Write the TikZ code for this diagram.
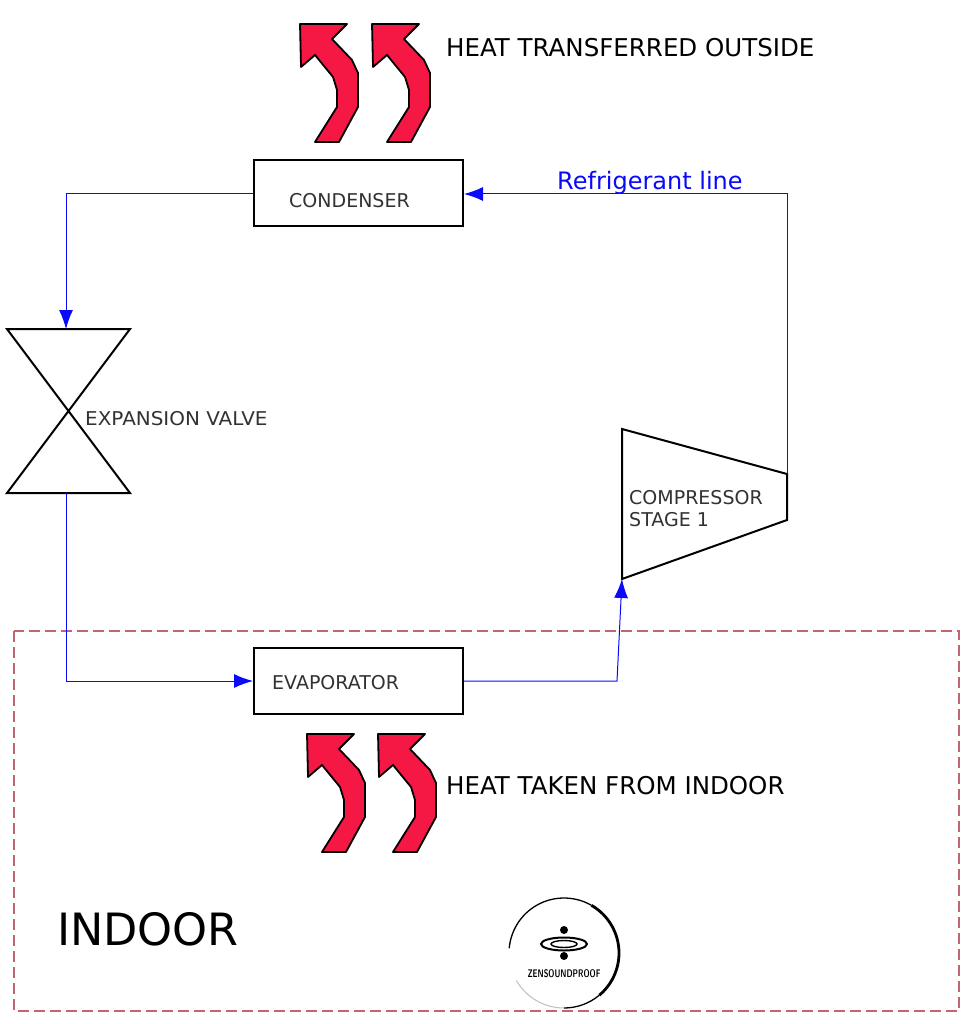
\documentclass[tikz,border=0pt]{standalone}
\usepackage{fontspec}
\setmainfont{DejaVu Sans}
\usetikzlibrary{arrows.meta}
\definecolor{heatred}{RGB}{245,24,68}
\definecolor{lineblue}{RGB}{10,10,250}
\definecolor{indoorred}{RGB}{195,100,115}
\definecolor{labelgray}{RGB}{50,50,50}
\tikzset{
  unitbox/.style={draw, line width=2pt, minimum width=209pt, minimum height=66pt, inner sep=0pt},
  unitlabel/.style={font=\fontsize{19}{22.5}\selectfont, text=labelgray, inner sep=0pt, align=left},
  biglabel/.style={font=\fontsize{24.5}{28}\selectfont, inner sep=0pt},
  refline/.style={lineblue, line width=1pt},
  refarrow/.style={refline, -{Latex[length=19pt,width=14pt]}},
  heatarrow/.pic={
    \filldraw[fill=heatred, line width=1.8pt, line join=round] (0,0) -- (47,0) -- (32,15) -- (52,36) -- (58,49) -- (58,83)
      -- (39,118) -- (15,118) -- (37,83) -- (37,66) -- (33,53) -- (15,31) -- (1,43) -- cycle;
  }
}
\begin{document}
\begin{tikzpicture}[x=1pt, y=-1pt]
    \useasboundingbox[fill=white] (0,0) rectangle (966,1024);
    % indoor zone
    \draw[indoorred, line width=1.1pt, dash pattern=on 11pt off 5pt] (14,631) rectangle (959,1011);
    \node[anchor=west, font=\fontsize{44.5}{50}\selectfont, inner sep=0pt] (indoor) at (57,929) {INDOOR};
    % heat arrows
    \pic at (300,24) {heatarrow};
    \pic at (372,24) {heatarrow};
    \pic at (307,734) {heatarrow};
    \pic at (378,734) {heatarrow};
    \node[biglabel, anchor=west] (heatout) at (446,48) {HEAT TRANSFERRED OUTSIDE};
    \node[biglabel, anchor=west] (heatin) at (446,786) {HEAT TAKEN FROM INDOOR};
    % units
    \node[unitbox] (condenser) at (358.5,193) {};
    \node[unitbox] (evaporator) at (358.5,681) {};
    \node[unitlabel, anchor=west] (condensertext) at (289,201) {CONDENSER};
    \node[unitlabel, anchor=west] (evaporatortext) at (272,683) {EVAPORATOR};
    \coordinate (condin) at ([yshift=-1pt]condenser.east);
    \coordinate (condout) at ([yshift=-1pt]condenser.west);
    % valve
    \coordinate (valvetop) at (66,329);
    \coordinate (valvebottom) at (66,493);
    \draw[line width=2pt] (7,329) -- (130,329) -- (7,493) -- (130,493) -- cycle;
    \node[unitlabel, anchor=west, xscale=1.05] (valvetext) at (85,419) {EXPANSION VALVE};
    % compressor
    \coordinate (compin) at (622,579);
    \coordinate (compout) at (787,474);
    \draw[line width=2pt] (622,429) -- (787,474) -- (787,520) -- (622,579) -- cycle;
    \node[unitlabel, anchor=north west] (compressortext) at (629,490) {COMPRESSOR\\STAGE 1};
    % refrigerant lines
    \draw[refarrow] (condout) -- (valvetop |- condout) -- (valvetop);
    \draw[refarrow] (valvebottom) -- (valvebottom |- evaporator.west) -- (evaporator.west);
    \draw[refarrow] (evaporator.east) -- (617,681) -- (compin);
    \draw[refarrow] (compout) -- (compout |- condin) -- (condin);
    \node[anchor=west, text=lineblue, font=\fontsize{24}{28}\selectfont, inner sep=0pt] (linetext) at (557,183) {Refrigerant line};
    % logo
    \begin{scope}[shift={(564,953)}, y=1pt]
      \draw[line width=1.3pt] (175:55) arc (175:60:55);
      \draw[line width=2.8pt] (60:55) arc (60:-50:55);
      \draw[line width=1.3pt] (-50:55) arc (-50:-90:55);
      \draw[black!25, line width=1pt] (-90:55) arc (-90:-150:55);
      \fill (0,23) circle (4pt);
      \fill (0,-3) circle (4pt);
      \draw[line width=2pt] (0,9) ellipse (23pt and 6.5pt);
      \draw[line width=1.4pt] (0,9) ellipse (13pt and 3.5pt);
    \end{scope}
    \node[font=\sffamily\bfseries\fontsize{11}{13}\selectfont, inner sep=0pt, xscale=0.7] (logotext) at (564,974) {ZENSOUNDPROOF};
  \end{tikzpicture}
\end{document}
